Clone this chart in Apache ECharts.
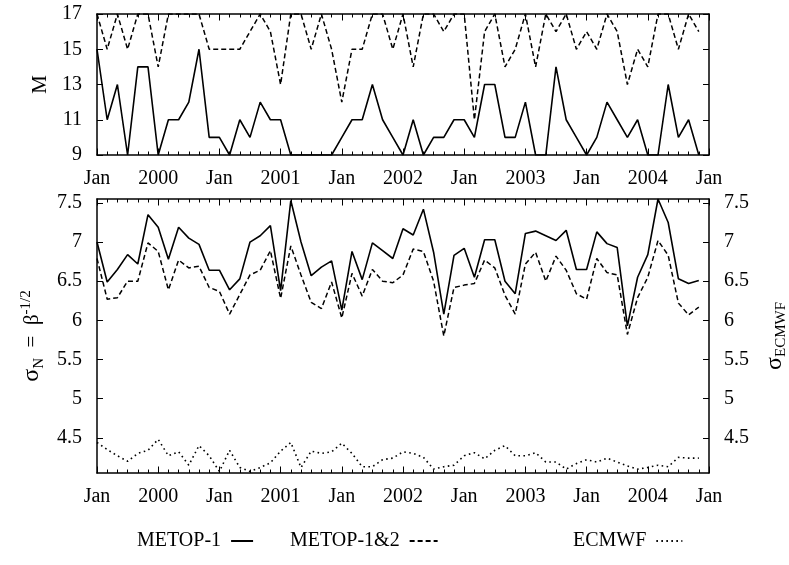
<!DOCTYPE html>
<html>
<head>
<meta charset="utf-8">
<script src="https://cdn.jsdelivr.net/npm/echarts@6/dist/echarts.min.js"></script>
<style>
html, body { margin: 0; padding: 0; background: #fff; }
#chart { width: 789px; height: 565px; }
</style>
</head>
<body>
<div id="chart"></div>
<script>
// Month axis: index 0 = first month, labels every 6 months
const tickLabels = ['Jan', '2000', 'Jan', '2001', 'Jan', '2002', 'Jan', '2003', 'Jan', '2004', 'Jan'];

// Upper panel: M per month
const countMetop1 = [15, 11, 13, 9, 14, 14, 9, 11, 11, 12,
  15, 10, 10, 9, 11, 10, 12, 11, 11, 9,
  9, 9, 9, 9, 10, 11, 11, 13, 11, 10,
  9, 11, 9, 10, 10, 11, 11, 10, 13, 13,
  10, 10, 12, 9, 9, 14, 11, 10, 9, 10,
  12, 11, 10, 11, 9, 9, 13, 10, 11, 9];
const countMetop12 = [17, 15, 17, 15, 17, 17, 14, 17, 17, 17,
  17, 15, 15, 15, 15, 16, 17, 16, 13, 17,
  17, 15, 17, 15, 12, 15, 15, 17, 17, 15,
  17, 14, 17, 17, 16, 17, 17, 11, 16, 17,
  14, 15, 17, 14, 17, 16, 17, 15, 16, 15,
  17, 16, 13, 15, 14, 17, 17, 15, 17, 16];

// Lower panel: sigma per month
const sigmaMetop1 = [7.00, 6.49, 6.65, 6.84, 6.72, 7.35, 7.19, 6.78, 7.19, 7.05,
  6.97, 6.64, 6.64, 6.39, 6.53, 7.00, 7.08, 7.21, 6.38, 7.53,
  7.00, 6.57, 6.68, 6.76, 6.13, 6.88, 6.52, 6.99, 6.89, 6.79,
  7.17, 7.09, 7.42, 6.87, 6.08, 6.83, 6.92, 6.55, 7.03, 7.03,
  6.50, 6.34, 7.11, 7.14, 7.08, 7.02, 7.15, 6.65, 6.65, 7.13,
  6.98, 6.93, 5.93, 6.55, 6.84, 7.55, 7.25, 6.53, 6.47, 6.51];
const sigmaMetop12 = [6.79, 6.27, 6.29, 6.50, 6.50, 6.99, 6.88, 6.39, 6.77, 6.67,
  6.69, 6.42, 6.37, 6.08, 6.33, 6.58, 6.64, 6.89, 6.28, 6.95,
  6.58, 6.23, 6.15, 6.49, 6.03, 6.60, 6.31, 6.65, 6.50, 6.48,
  6.58, 6.91, 6.88, 6.50, 5.80, 6.42, 6.45, 6.47, 6.77, 6.67,
  6.32, 6.08, 6.72, 6.87, 6.50, 6.82, 6.64, 6.34, 6.27, 6.79,
  6.61, 6.58, 5.82, 6.29, 6.55, 7.02, 6.83, 6.22, 6.07, 6.17];
const sigmaEcmwf = [4.44, 4.35, 4.27, 4.20, 4.30, 4.34, 4.48, 4.27, 4.32, 4.15,
  4.40, 4.27, 4.07, 4.34, 4.12, 4.07, 4.12, 4.18, 4.33, 4.44,
  4.12, 4.33, 4.30, 4.32, 4.43, 4.30, 4.13, 4.13, 4.22, 4.24,
  4.32, 4.30, 4.25, 4.10, 4.13, 4.15, 4.27, 4.31, 4.23, 4.34,
  4.40, 4.27, 4.27, 4.31, 4.19, 4.19, 4.10, 4.17, 4.22, 4.19,
  4.24, 4.19, 4.14, 4.10, 4.12, 4.15, 4.13, 4.25, 4.24, 4.24];

const mTicks = [9, 11, 13, 15, 17];
const sigmaTicks = [4.5, 5, 5.5, 6, 6.5, 7, 7.5];

const FONT = '"Liberation Serif", "Times New Roman", serif';
const BLACK = '#000';

const withIndex = arr => arr.map((v, i) => [i, v]);

function monthAxis(grid, position, showLabels) {
  return {
    type: 'value', gridIndex: grid, position: position,
    min: 0, max: 60, interval: 6,
    axisLine: { show: true, onZero: false, lineStyle: { color: BLACK, width: 1.5 } },
    axisTick: { show: true, inside: true, length: 6.5, lineStyle: { color: BLACK, width: 1 } },
    minorTick: { show: true, splitNumber: 6, length: 3.5, lineStyle: { color: BLACK, width: 1 } },
    splitLine: { show: false },
    minorSplitLine: { show: false },
    axisLabel: {
      show: showLabels, margin: 14, fontFamily: FONT, fontSize: 20, color: BLACK,
      formatter: v => tickLabels[Math.round(v / 6)]
    }
  };
}

function valueAxis(grid, position, min, max, ticks, showLabels, extra) {
  return Object.assign({
    type: 'value', gridIndex: grid, position: position,
    min: min, max: max,
    axisLine: { show: true, onZero: false, lineStyle: { color: BLACK, width: 1.5 } },
    axisTick: { show: true, inside: true, length: 6, customValues: ticks, lineStyle: { color: BLACK, width: 1 } },
    splitLine: { show: false },
    axisLabel: {
      show: showLabels, margin: 15, fontFamily: FONT, fontSize: 20, color: BLACK,
      customValues: ticks
    }
  }, extra || {});
}

const subRich = {
  m: { fontFamily: FONT, fontSize: 21, color: BLACK, lineHeight: 28 },
  g: { fontFamily: FONT, fontSize: 24, color: BLACK, lineHeight: 28 },
  sub: { fontFamily: FONT, fontSize: 15, color: BLACK, lineHeight: 15, verticalAlign: 'bottom' },
  sup: { fontFamily: FONT, fontSize: 15, color: BLACK, lineHeight: 15, verticalAlign: 'top' }
};

const solid = { color: BLACK, width: 1.6, type: 'solid' };
const dashed = { color: BLACK, width: 1.5, type: [5, 3] };
const dotted = { color: BLACK, width: 1.6, type: [1.6, 3.4] };

function lineSeries(name, xi, yi, data, style) {
  return {
    name: name, type: 'line', xAxisIndex: xi, yAxisIndex: yi,
    data: withIndex(data), symbol: 'none', lineStyle: style, itemStyle: { color: BLACK },
    silent: true, animation: false
  };
}

function legendAt(left, name, width) {
  return {
    left: left, top: 531, orient: 'horizontal', align: 'right', padding: 0,
    itemWidth: width, itemHeight: 14,
    data: [name],
    itemStyle: { color: 'rgba(0,0,0,0)', borderColor: 'rgba(0,0,0,0)', borderWidth: 0, opacity: 0 },
    textStyle: { fontFamily: FONT, fontSize: 20, color: BLACK, padding: [0, 5, 0, 0] },
    selectedMode: false
  };
}

const chart = echarts.init(document.getElementById('chart'), null, { renderer: 'canvas' });
chart.setOption({
  backgroundColor: '#fff',
  animation: false,
  grid: [
    { left: 97, right: 80, top: 14, height: 141, outerBoundsMode: 'none', containLabel: false },
    { left: 97, right: 80, top: 199, height: 274, outerBoundsMode: 'none', containLabel: false }
  ],
  xAxis: [
    monthAxis(0, 'bottom', true),
    monthAxis(0, 'top', false),
    monthAxis(1, 'bottom', true),
    monthAxis(1, 'top', false)
  ],
  yAxis: [
    valueAxis(0, 'left', 9, 17, mTicks, true, {
      name: 'M', nameLocation: 'middle', nameRotate: 90, nameGap: 43,
      nameTextStyle: { fontFamily: FONT, fontSize: 21, color: BLACK }
    }),
    valueAxis(0, 'right', 9, 17, mTicks, false),
    valueAxis(1, 'left', 4.05, 7.55, sigmaTicks, true, {
      name: '{g|σ}{sub|N}{m|  =  β}{sup|-1/2}', nameLocation: 'middle', nameRotate: 90, nameGap: 48,
      nameTextStyle: { rich: subRich }
    }),
    valueAxis(1, 'right', 4.05, 7.55, sigmaTicks, true, {
      name: '{g|σ}{sub|ECMWF}', nameLocation: 'middle', nameRotate: 90, nameGap: 52,
      nameTextStyle: { rich: subRich }
    })
  ],
  legend: [
    legendAt(137, 'METOP-1', 22),
    legendAt(290, 'METOP-1&2', 28),
    legendAt(573, 'ECMWF', 26)
  ],
  series: [
    lineSeries('METOP-1', 0, 0, countMetop1, solid),
    lineSeries('METOP-1&2', 0, 0, countMetop12, dashed),
    lineSeries('METOP-1', 2, 2, sigmaMetop1, solid),
    lineSeries('METOP-1&2', 2, 2, sigmaMetop12, dashed),
    lineSeries('ECMWF', 2, 2, sigmaEcmwf, dotted)
  ]
});
</script>
</body>
</html>
